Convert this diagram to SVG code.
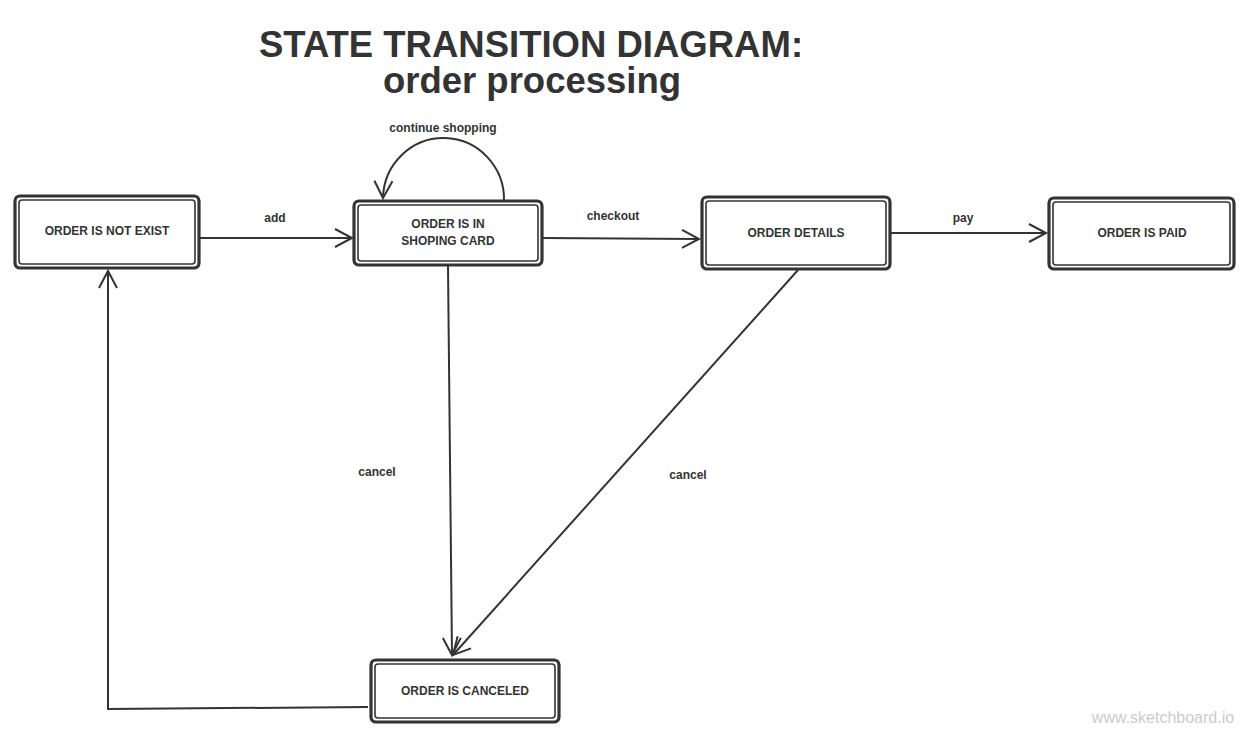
<svg xmlns="http://www.w3.org/2000/svg" width="1256" height="739" viewBox="0 0 1256 739">
<defs>
<style>
.o{fill:#fff;stroke:#333;stroke-width:3.2}
.i{fill:none;stroke:#333;stroke-width:1.6}
.t{font-family:"Liberation Sans",Arial,sans-serif;font-weight:bold;font-size:12px;fill:#333;text-anchor:middle}
.c{fill:none;stroke:#333;stroke-width:2}
.h{font-family:"Liberation Sans",Arial,sans-serif;font-weight:bold;fill:#333;text-anchor:middle}
</style>
<marker id="a" markerUnits="userSpaceOnUse" markerWidth="24" markerHeight="24" refX="18" refY="10" orient="auto" viewBox="0 0 24 20">
<path d="M1,1 L18,10 L1,19" fill="none" stroke="#333" stroke-width="2"/>
</marker>
</defs>
<rect width="1256" height="739" fill="#fff"/>
<g id="title">
<text class="h" x="531" y="57" font-size="36.5">STATE TRANSITION DIAGRAM:</text>
<text class="h" x="532" y="93" font-size="36.5">order processing</text>
</g>
<g id="connectors">
<path class="c" d="M200,238 L352,238" marker-end="url(#a)"/>
<text class="t" x="275" y="222">add</text>
<path class="c" d="M543,238 L699,239" marker-end="url(#a)"/>
<text class="t" x="613" y="220">checkout</text>
<path class="c" d="M891,233 L1046,233" marker-end="url(#a)"/>
<text class="t" x="963" y="222">pay</text>
<path class="c" d="M504,201 A60,61 0 1 0 383,198" marker-end="url(#a)"/>
<text class="t" x="443" y="132">continue shopping</text>
<path class="c" d="M448,266 L452,655" marker-end="url(#a)"/>
<text class="t" x="377" y="476">cancel</text>
<path class="c" d="M798,270 L453,655" marker-end="url(#a)"/>
<text class="t" x="688" y="479">cancel</text>
<path class="c" d="M368,707 L108,709 L108,271" marker-end="url(#a)"/>
</g>
<g id="n1">
<rect class="o" x="15" y="196" width="184" height="72" rx="5"/>
<rect class="i" x="19" y="200" width="176" height="64" rx="3"/>
<text class="t" x="107" y="235">ORDER IS NOT EXIST</text>
</g>
<g id="n2">
<rect class="o" x="354" y="201" width="188" height="64" rx="5"/>
<rect class="i" x="358" y="205" width="180" height="56" rx="3"/>
<text class="t" x="448" y="228">ORDER IS IN</text>
<text class="t" x="448" y="245">SHOPING CARD</text>
</g>
<g id="n3">
<rect class="o" x="702" y="197" width="188" height="72" rx="5"/>
<rect class="i" x="706" y="201" width="180" height="64" rx="3"/>
<text class="t" x="796" y="237">ORDER DETAILS</text>
</g>
<g id="n4">
<rect class="o" x="1049" y="198" width="185" height="71" rx="5"/>
<rect class="i" x="1053" y="202" width="177" height="63" rx="3"/>
<text class="t" x="1142" y="237">ORDER IS PAID</text>
</g>
<g id="n5">
<rect class="o" x="371" y="660" width="188" height="62" rx="5"/>
<rect class="i" x="375" y="664" width="180" height="54" rx="3"/>
<text class="t" x="465" y="695">ORDER IS CANCELED</text>
</g>
<text x="1163" y="723" font-family="Liberation Sans,Arial,sans-serif" font-size="16" fill="#ccc" text-anchor="middle">www.sketchboard.io</text>
</svg>
